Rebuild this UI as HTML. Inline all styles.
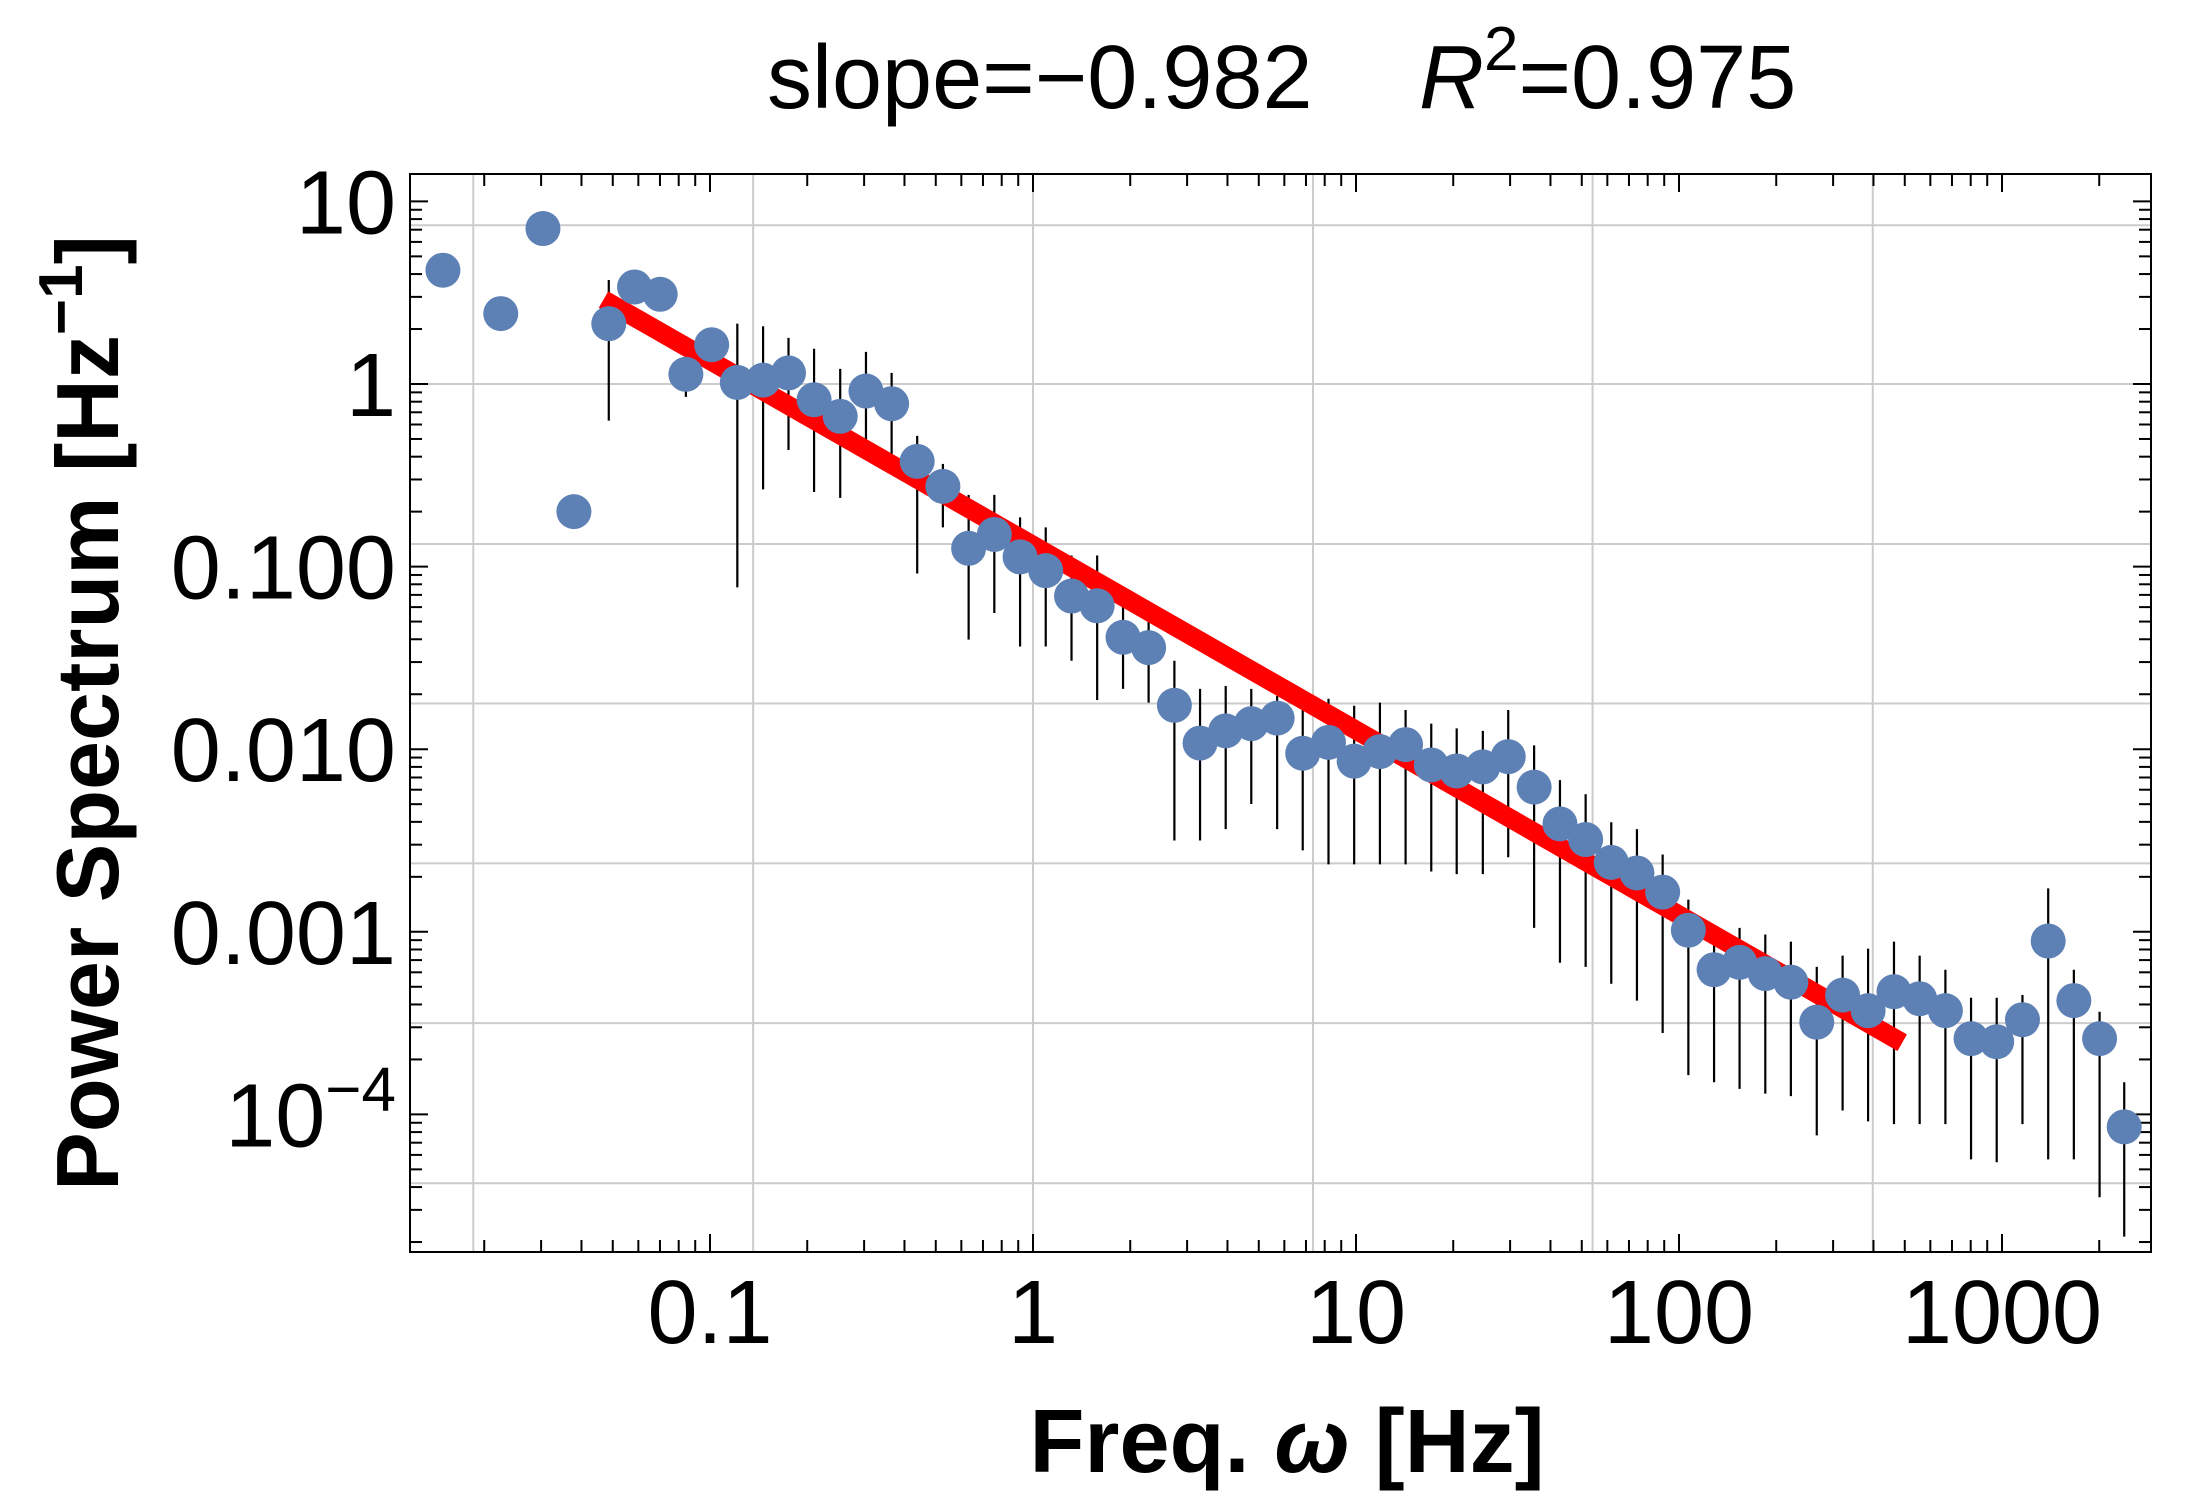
<!DOCTYPE html>
<html><head><meta charset="utf-8"><style>
html,body{margin:0;padding:0;background:#fff;}
svg{display:block;font-family:"Liberation Sans",Arial,sans-serif;}
</style></head><body>
<svg id="chart" width="2190" height="1508" viewBox="0 0 2190 1508" xmlns="http://www.w3.org/2000/svg">
<rect width="2190" height="1508" fill="#fff"/>
<g id="grid"></g>
<g id="ticks"></g>
<g id="errs"></g>
<g id="fit"></g>
<g id="pts"></g>
<rect x="410" y="174" width="1741" height="1078" fill="none" stroke="#000" stroke-width="2"/>
<g id="labels" font-size="90"></g>
<text x="767" y="108" font-size="90">slope=−0.982</text>
<text x="1419" y="108" font-size="90"><tspan font-style="italic">R</tspan><tspan dy="-38" font-size="62">2</tspan><tspan dy="38">=0.975</tspan></text>
<text transform="translate(118,713) rotate(-90)" text-anchor="middle" font-size="88" font-weight="bold">Power Spectrum [Hz<tspan dy="-36" font-size="62">−1</tspan><tspan dy="36">]</tspan></text>
<text x="1287" y="1472" text-anchor="middle" font-size="90" font-weight="bold">Freq. <tspan font-style="italic">ω</tspan> [Hz]</text>
</svg>
<script>
const freqs=[0.0149,0.0225,0.0304,0.0379,0.0486,0.0584,0.0701,0.0842,0.1012,0.1215,0.146,0.175,0.210,0.253,0.304,0.365,0.438,0.526,0.632,0.759,0.912,1.095,1.316,1.58,1.90,2.28,2.74,3.29,3.95,4.74,5.70,6.84,8.22,9.87,11.86,14.24,17.1,20.5,24.7,29.6,35.6,42.8,51.4,61.7,74.1,89.0,106.9,128.4,154,185,222,267,321,385,463,556,668,802,963,1157,1390,1669,2005,2390];
const power=[4.2,2.43,7.1,0.20,2.14,3.4,3.1,1.13,1.64,1.02,1.05,1.15,0.82,0.665,0.915,0.78,0.377,0.275,0.126,0.150,0.113,0.095,0.069,0.061,0.041,0.036,0.0174,0.0108,0.0126,0.0138,0.0148,0.0095,0.0109,0.0086,0.0097,0.0106,0.0082,0.0076,0.0080,0.0091,0.0062,0.0039,0.0032,0.0024,0.0021,0.00165,0.00102,0.00062,0.00068,0.00059,0.00053,0.00032,0.00045,0.00037,0.00047,0.00043,0.00037,0.00026,0.00025,0.00033,0.00089,0.00042,0.00026,0.0000855];
const errHigh=[null,null,null,null,3.71,null,null,1.30,null,2.14,2.07,1.79,1.56,1.21,1.50,1.15,0.52,0.365,0.247,0.247,0.186,0.164,0.115,0.115,0.074,0.0519,0.0305,0.0214,0.0222,0.0214,0.0196,0.018,0.0189,0.0173,0.018,0.0164,0.0138,0.013,0.0126,0.0164,0.0105,0.00677,0.00567,0.00398,0.00365,0.00265,0.0015,0.00105,0.00105,0.000966,0.000884,0.000643,0.00074,0.000809,0.000884,0.00074,0.00062,0.000435,0.000435,0.000451,0.00173,0.00062,0.000365,0.00015];
const errLow=[null,null,null,null,0.63,null,null,0.85,null,0.077,0.265,0.435,0.256,0.238,0.398,0.365,0.0916,0.164,0.0398,0.0557,0.0365,0.0365,0.0305,0.0186,0.0214,0.018,0.00316,0.00316,0.00365,0.00501,0.00365,0.00279,0.00234,0.00234,0.00234,0.00234,0.00214,0.00207,0.00207,0.00256,0.00105,0.000677,0.000643,0.000519,0.00042,0.000279,0.000164,0.00015,0.000138,0.00013,0.000126,0.0000767,0.000105,0.0000916,0.0000884,0.0000884,0.0000884,0.0000567,0.0000547,0.0000884,0.0000567,0.0000567,0.0000352,0.0000214];
const fitX=[0.0468,491];
const fitY=[2.9,0.000247];
const xTickVals=[0.1,1,10,100,1000];
const xTickLabels=["0.1","1","10","100","1000"];
const yTickVals=[10,1,0.1,0.01,0.001,0.0001];
const yTickLabels=["10","1","0.100","0.010","0.001","10^-4"];
const xGridVals=[0.0185,0.136,1,7.36,54,398];
const yGridVals=[7.4,1,0.133,0.0178,0.00237,0.000316,0.000042];

const NS="http://www.w3.org/2000/svg";
const L=410,R=2151,T=174,B=1252;
function X(f){return 1033+323*Math.log10(f);}
function Y(p){return 384-182.6*Math.log10(p);}
function mk(tag,attrs,parent){const e=document.createElementNS(NS,tag);for(const k in attrs)e.setAttribute(k,attrs[k]);parent.appendChild(e);return e;}
const grid=document.getElementById('grid'),ticks=document.getElementById('ticks'),errs=document.getElementById('errs'),fit=document.getElementById('fit'),pts=document.getElementById('pts'),labels=document.getElementById('labels');

xGridVals.forEach(v=>{const x=X(v);if(x>L&&x<R){const l=mk('line',{x1:x,x2:x,y1:T,y2:B,stroke:'#cccccc','stroke-width':2},grid);

}});
yGridVals.forEach(v=>{const y=Y(v);if(y>T&&y<B){const l=mk('line',{x1:L,x2:R,y1:y,y2:y,stroke:'#cccccc','stroke-width':2},grid);

}});

for(let d=-3;d<=4;d++){for(let m=1;m<10;m++){const v=m*Math.pow(10,d);const x=X(v);if(x<=L||x>=R)continue;const len=m===1?18:12;
const a=mk('line',{x1:x,x2:x,y1:B,y2:B-len,stroke:'#000','stroke-width':2},ticks);


const b=mk('line',{x1:x,x2:x,y1:T,y2:T+len,stroke:'#000','stroke-width':2},ticks);

}}
for(let d=-6;d<=2;d++){for(let m=1;m<10;m++){const v=m*Math.pow(10,d);const y=Y(v);if(y<=T||y>=B)continue;const len=m===1?18:12;
const a=mk('line',{x1:L,x2:L+len,y1:y,y2:y,stroke:'#000','stroke-width':2},ticks);


const b=mk('line',{x1:R,x2:R-len,y1:y,y2:y,stroke:'#000','stroke-width':2},ticks);

}}

xTickVals.forEach((v,i)=>{const t=mk('text',{x:X(v),y:1343,'text-anchor':'middle'},labels);t.textContent=xTickLabels[i];

});
yTickVals.forEach((v,i)=>{const t=mk('text',{x:396,y:Y(v)+32,'text-anchor':'end'},labels);
const s=yTickLabels[i];
if(s.indexOf('^')>=0){const p=s.split('^');const a=mk('tspan',{},t);a.textContent=p[0];const b=mk('tspan',{dy:-36,'font-size':62},t);b.textContent=p[1].replace('-','−');}
else t.textContent=s;

});

freqs.forEach((f,i)=>{if(errHigh[i]!=null&&errLow[i]!=null){const x=X(f);
const l=mk('line',{x1:x,x2:x,y1:Y(errHigh[i]),y2:Y(errLow[i]),stroke:'#000','stroke-width':2.2},errs);

}});

const fl=mk('line',{x1:X(fitX[0]),y1:Y(fitY[0]),x2:X(fitX[1]),y2:Y(fitY[1]),stroke:'#ff0000','stroke-width':19},fit);



freqs.forEach((f,i)=>{const c=mk('circle',{cx:X(f),cy:Y(power[i]),r:17.5,fill:'#5e81b5'},pts);

});
</script>
</body></html>
